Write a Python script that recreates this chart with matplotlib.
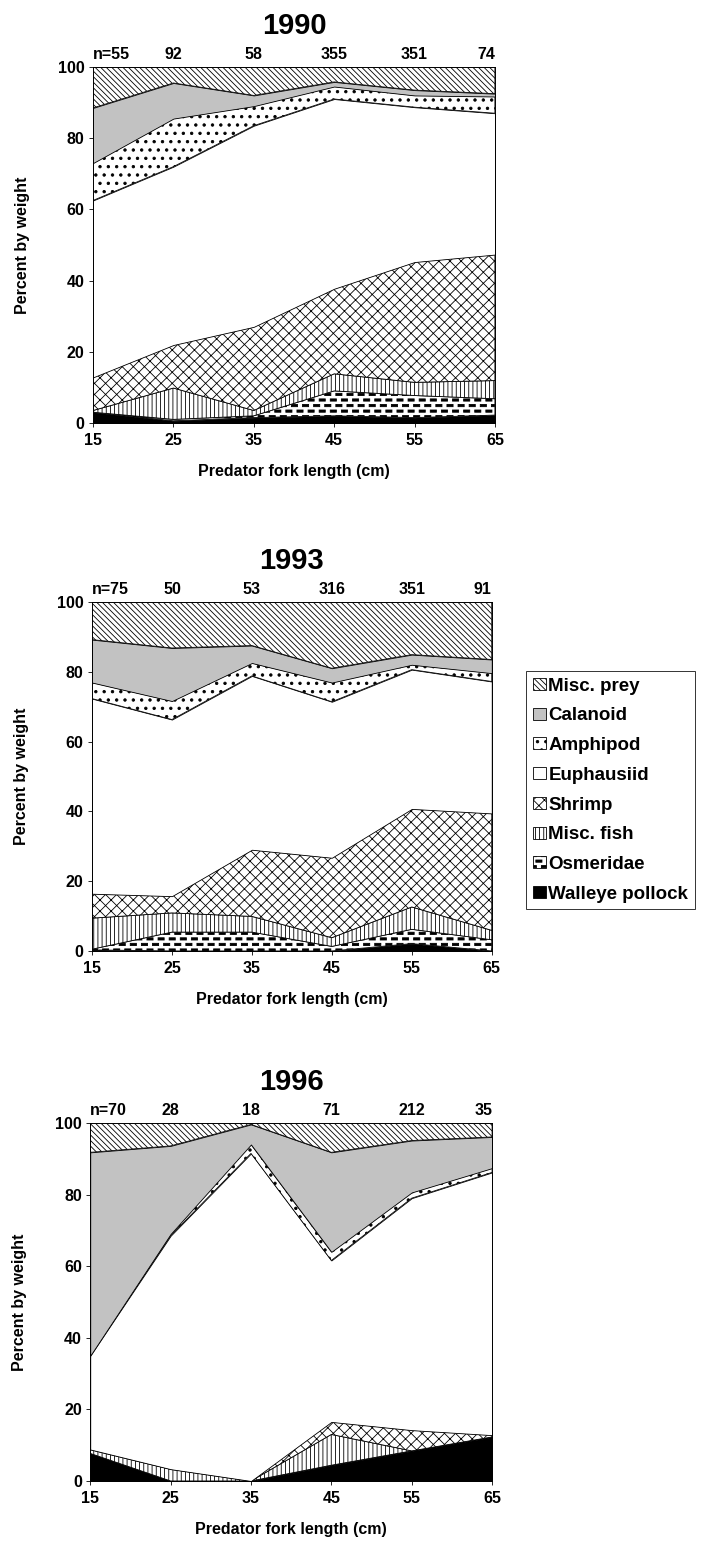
import numpy as np
import matplotlib
matplotlib.use("Agg")
import matplotlib.pyplot as plt
import matplotlib.hatch as mhatch
from matplotlib.patches import Patch
from matplotlib.path import Path

plt.rcParams['font.family'] = ['Liberation Sans', 'DejaVu Sans']
plt.rcParams['font.weight'] = 'bold'
plt.rcParams['hatch.linewidth'] = 0.6

# predator fork length classes (cm)
lengths = [15, 25, 35, 45, 55, 65]

# prey categories, bottom to top of the stack
prey = ["Walleye pollock", "Osmeridae", "Misc. fish", "Shrimp",
        "Euphausiid", "Amphipod", "Calanoid", "Misc. prey"]

# percent by weight, one list per prey category (same order as prey)
pct_1990 = [
    [3.0, 0.6, 1.5, 2.0, 1.5, 2.2],
    [0.0, 0.4, 0.5, 7.0, 6.2, 4.6],
    [0.5, 8.8, 1.5, 4.8, 3.7, 5.1],
    [9.3, 12.1, 23.5, 23.9, 33.8, 35.4],
    [49.7, 50.1, 56.5, 53.3, 43.5, 39.7],
    [10.5, 13.5, 5.5, 3.5, 3.3, 4.7],
    [15.5, 10.0, 3.0, 1.3, 1.5, 0.8],
    [11.5, 4.5, 8.0, 4.2, 6.5, 7.5],
]
pct_1993 = [
    [0.3, 0.0, 0.0, 0.0, 2.1, 0.0],
    [0.2, 5.4, 5.4, 1.3, 4.1, 3.2],
    [8.9, 5.5, 4.5, 2.5, 6.4, 2.7],
    [7.0, 4.8, 19.1, 22.9, 28.1, 33.5],
    [55.9, 50.6, 49.8, 44.7, 39.9, 37.8],
    [4.6, 5.3, 3.7, 5.5, 1.4, 2.4],
    [12.3, 15.2, 5.0, 4.1, 2.9, 3.9],
    [10.8, 13.2, 12.5, 19.0, 15.1, 16.5],
]
pct_1996 = [
    [7.7, 0.0, 0.0, 4.4, 8.4, 12.3],
    [0.0, 0.0, 0.0, 0.0, 0.0, 0.0],
    [1.1, 3.3, 0.0, 8.6, 0.0, 0.0],
    [0.0, 0.0, 0.0, 3.5, 5.8, 0.5],
    [26.2, 65.2, 91.5, 45.1, 64.8, 73.4],
    [0.0, 0.5, 2.5, 2.4, 1.6, 1.2],
    [56.8, 24.6, 5.6, 27.8, 14.5, 8.7],
    [8.2, 6.4, 0.4, 8.2, 4.9, 3.9],
]

n_1990 = [55, 92, 58, 355, 351, 74]
n_1993 = [75, 50, 53, 316, 351, 91]
n_1996 = [70, 28, 18, 71, 212, 35]

years = ["1990", "1993", "1996"]


class BrickDashes(mhatch.HatchPatternBase):
    # short black bars in staggered rows; takes over the 'O' hatch letter
    def __init__(self, hatch, density):
        n = int(hatch.count('O') * density)
        self.n = n
        self.centers = []
        if n:
            for i in range(n + 1):
                for j in range(n + 1):
                    if (i + j) % 2 == 0:
                        self.centers.append((j / n, i / n))
        self.num_vertices = len(self.centers) * 5

    def set_vertices_and_codes(self, vertices, codes):
        w, h = 0.55 / self.n, 0.2 / self.n
        box = np.array([[-w, -h], [w, -h], [w, h], [-w, h], [-w, -h]])
        for k, (cx, cy) in enumerate(self.centers):
            vertices[5 * k:5 * k + 5] = box + [cx, cy]
            codes[5 * k:5 * k + 5] = [Path.MOVETO, Path.LINETO, Path.LINETO,
                                      Path.LINETO, Path.CLOSEPOLY]


mhatch._hatch_types = [BrickDashes if t is mhatch.LargeCircles else t
                       for t in mhatch._hatch_types]
# bigger dots for the amphipod stipple
mhatch.SmallFilledCircles.size = 0.15

# fill style per prey category: (facecolor, hatch)
styles = [
    ("black", None),
    ("white", "OOO"),
    ("white", "||||"),
    ("white", "xxx"),
    ("white", None),
    ("white", ".."),
    ("#c2c2c2", None),
    ("white", "\\" * 6),
]

fig = plt.figure(figsize=(7.05, 15.43), dpi=100)

# axes rectangles in figure coords
boxes = [
    [0.132, 0.7259, 0.570, 0.2307],
    [0.1305, 0.3837, 0.567, 0.2262],
    [0.128, 0.0402, 0.570, 0.2320],
]


def draw_panel(ax, data, counts, year):
    data = np.array(data)
    tops = np.cumsum(data, axis=0)
    bottoms = np.vstack([np.zeros(len(lengths)), tops[:-1]])
    for k in range(len(prey)):
        fc, hatch = styles[k]
        ax.fill_between(lengths, bottoms[k], tops[k], facecolor=fc,
                        hatch=hatch, edgecolor="black", linewidth=0.6)
    ax.set_xlim(15, 65)
    ax.set_ylim(0, 100)
    ax.set_xticks(lengths)
    ax.set_yticks([0, 20, 40, 60, 80, 100])
    ax.tick_params(axis="both", direction="out", length=3, width=0.6,
                   labelsize=11.5)
    ax.tick_params(axis="y", pad=3)
    ax.tick_params(axis="x", pad=4)
    for s in ax.spines.values():
        s.set_linewidth(0.7)
    ax.set_xlabel("Predator fork length (cm)", fontsize=11.5,
                  fontweight="bold", labelpad=12)
    ax.set_ylabel("Percent by weight", fontsize=11.5, fontweight="bold",
                  labelpad=20)
    ax.set_title(year, fontsize=21, fontweight="bold", pad=24)
    for i, (x, n) in enumerate(zip(lengths, counts)):
        label = "n=%d" % n if i == 0 else str(n)
        ha = "left" if i == 0 else ("right" if i == len(lengths) - 1 else "center")
        ax.text(x, 102.3, label, ha=ha, va="baseline", fontsize=11.5,
                fontweight="bold")


for box, data, counts, year in zip(boxes, [pct_1990, pct_1993, pct_1996],
                                   [n_1990, n_1993, n_1996], years):
    ax = fig.add_axes(box)
    draw_panel(ax, data, counts, year)

handles = [Patch(facecolor=styles[k][0], hatch=styles[k][1],
                 edgecolor="black", linewidth=0.6, label=prey[k])
           for k in reversed(range(len(prey)))]
leg = fig.legend(handles=handles, loc="upper left",
                 bbox_to_anchor=(526 / 705, 1 - 671 / 1543),
                 fontsize=13.5, frameon=True, fancybox=False,
                 handlelength=0.7, handleheight=0.6, handletextpad=0.15,
                 labelspacing=0.68, borderpad=0.35, borderaxespad=0)
leg.get_frame().set_edgecolor("black")
leg.get_frame().set_linewidth(0.7)
for t in leg.get_texts():
    t.set_fontweight("bold")

fig.savefig("out.png", dpi=100)
